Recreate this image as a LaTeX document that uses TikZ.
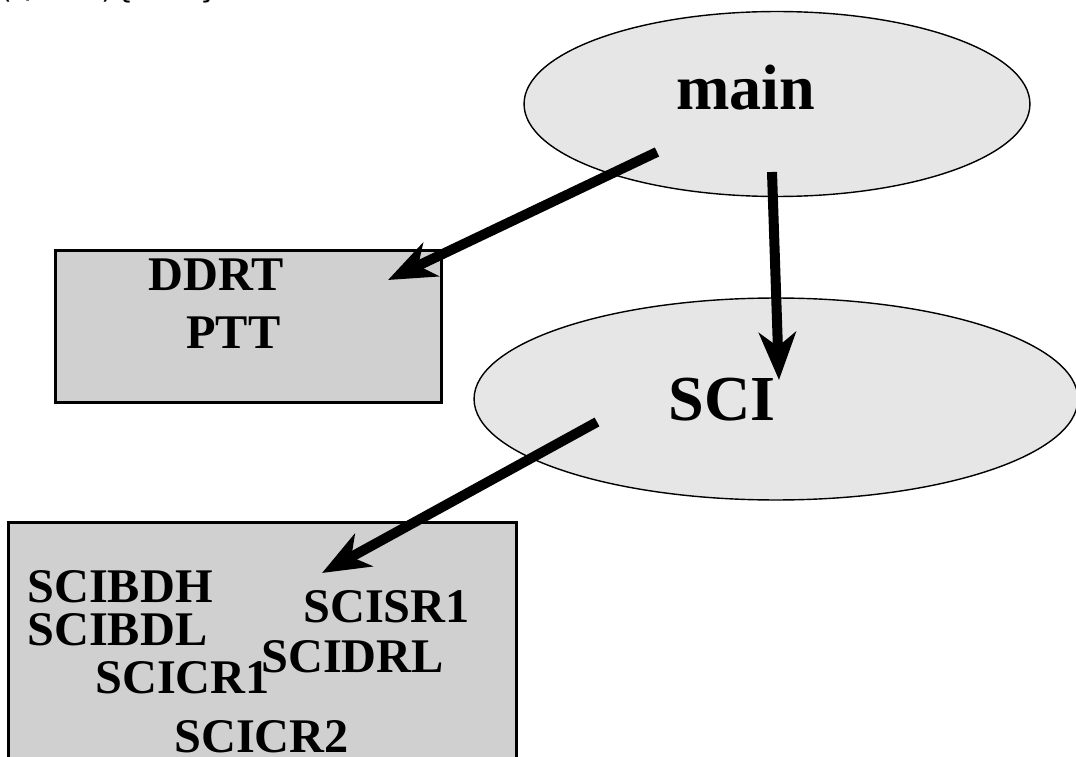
\documentclass[tikz,border=0pt]{standalone}
\usepackage{fontspec}
\setmainfont{Liberation Serif}
\newfontfamily\codefont{DejaVu Sans Mono}
\usetikzlibrary{arrows.meta,shapes.geometric,positioning}
\definecolor{OvalGray}{HTML}{E6E6E6}
\definecolor{BoxGray}{HTML}{D0D0D0}
\begin{document}
\begin{tikzpicture}[
  x=0.02cm,
  y=-0.02cm,
  oval/.style={ellipse,draw=black,line width=0.8pt,fill=OvalGray,inner sep=0pt},
  module/.style={rectangle,draw=black,line width=1.7pt,fill=BoxGray,inner sep=0pt},
  bigname/.style={font=\bfseries\fontsize{36.5}{36.5}\selectfont,anchor=base west,inner sep=0pt},
  unitname/.style={font=\bfseries\fontsize{27.5}{27.5}\selectfont,anchor=base west,inner sep=0pt},
  call/.style={-{Stealth[length=27pt,width=21pt,inset=8pt]},line width=5.7pt}
]
  \clip (0,0) rectangle (1076,757);
  \fill[white] (0,0) rectangle (1076,757);

  \node[font=\codefont\fontsize{16}{16}\selectfont,anchor=base west,inner sep=0pt] (stray) at (-3,-1)
    {(\textbackslash bold)\{\ \ \ \ \}};

  \node[oval,minimum width=10.12cm,minimum height=3.7cm] (main) at (777,104) {};
  \node[bigname] (mainlabel) at (676,110) {main};

  \node[oval,minimum width=12.08cm,minimum height=4.04cm] (sci) at (776,399) {};
  \node[bigname] (scilabel) at (668,420) {SCI};

  \node[module,minimum width=7.74cm,minimum height=3.06cm] (ptbox) at (248.5,326.5) {};
  \node[unitname] (ddrt) at (148,290) {DDRT};
  \node[unitname] (ptt) at (186,348) {PTT};

  \node[module,minimum width=10.18cm,minimum height=5.56cm] (scibox) at (262.5,661) {};
  \node[unitname] (scibdh) at (27,602) {SCIBDH};
  \node[unitname] (scibdl) at (27,645) {SCIBDL};
  \node[unitname] (scicr1) at (95,693) {SCICR1};
  \node[unitname] (scidrl) at (261,672) {SCIDRL};
  \node[unitname] (scisr1) at (303,622) {SCISR1};
  \node[unitname] (scicr2) at (174,752) {SCICR2};

  \coordinate (mainout1) at (657,152);
  \coordinate (ptin) at (388,280);
  \coordinate (mainout2) at (772,172);
  \coordinate (sciin) at (779,380);
  \coordinate (sciout) at (597,422);
  \coordinate (sciboxin) at (322,573);

  \draw[call] (mainout1) -- (ptin);
  \draw[call] (mainout2) -- (sciin);
  \draw[call] (sciout) -- (sciboxin);
\end{tikzpicture}
\end{document}
